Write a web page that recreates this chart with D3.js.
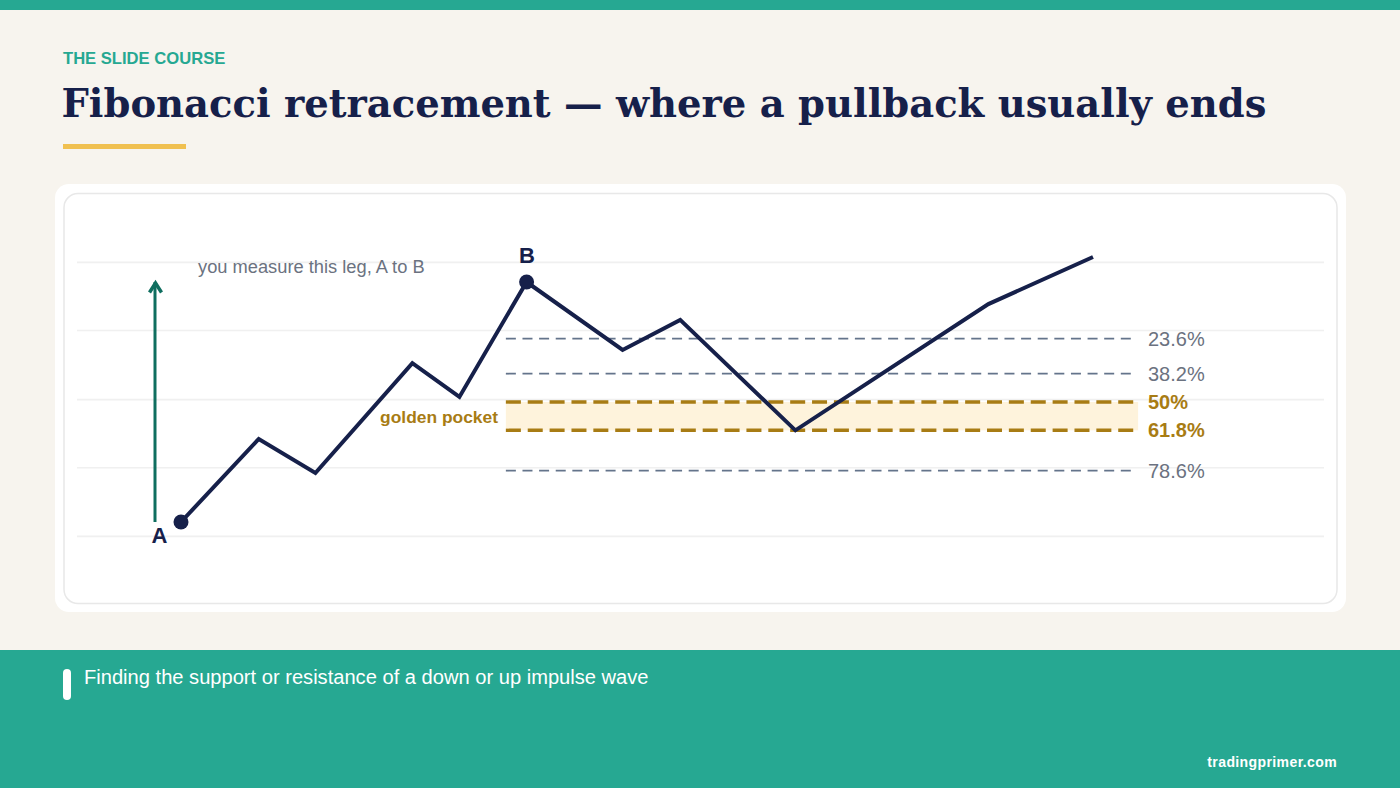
<!DOCTYPE html>
<html>
<head>
<meta charset="utf-8">
<script src="https://cdn.jsdelivr.net/npm/d3@7"></script>
<style>
    html, body { margin: 0; padding: 0; background: #f7f4ee; overflow: hidden; }
    svg { display: block; }
    text { font-family: "Liberation Sans", Arial, sans-serif; }
    .grid .domain { display: none; }
    .grid line { stroke: #f0f0f0; stroke-width: 1.6; }
</style>
</head>
<body>
<script>
// wave, x in bars and price as % of the A to B leg
const WAVE_BARS = [0, 4.05, 7, 12.05, 14.5, 18, 23, 26, 32, 42.05, 47.5];
const WAVE_PRICES = [0, 34.6, 20.4, 66.2, 52.1, 100, 71.7, 84.2, 38.2, 90.8, 110.4];

const GRID_PRICES = [108.4, 80, 51.2, 22.8, -5.8];

const LEVELS = [23.6, 38.2, 50, 61.8, 78.6];
const LEVEL_LABELS = ["23.6%", "38.2%", "50%", "61.8%", "78.6%"];
const GOLDEN_LEVELS = [50, 61.8];

const TEAL = "#26a892";
const NAVY = "#16204a";
const GOLD = "#a87c14";
const GRAY = "#6b7280";

const width = 1400;
const height = 788;

const svg = d3.select("body").append("svg")
    .attr("width", width)
    .attr("height", height);

const xScale = d3.scaleLinear().domain([0, 47.5]).range([181, 1093]);
const yScale = d3.scaleLinear().domain([0, 100]).range([522, 282]);
const levelY = (level) => yScale(100 - level);

// slide furniture
svg.append("rect").attr("width", width).attr("height", height).attr("fill", "#f7f4ee");
svg.append("rect").attr("width", width).attr("height", 10).attr("fill", TEAL);

svg.append("text")
    .attr("x", 63).attr("y", 64)
    .attr("fill", TEAL)
    .attr("font-size", 16.6)
    .attr("font-weight", 700)
    .text("THE SLIDE COURSE");

svg.append("text")
    .attr("x", 61.5).attr("y", 116.5)
    .attr("fill", NAVY)
    .attr("font-size", 38.5)
    .attr("font-weight", 700)
    .style("font-family", "'DejaVu Serif', serif")
    .text("Fibonacci retracement — where a pullback usually ends");

svg.append("rect")
    .attr("x", 63).attr("y", 144)
    .attr("width", 123).attr("height", 5)
    .attr("fill", "#f0c050");

// chart card
svg.append("rect")
    .attr("x", 55).attr("y", 184)
    .attr("width", 1291).attr("height", 428)
    .attr("rx", 14)
    .attr("fill", "#ffffff");
svg.append("rect")
    .attr("x", 64).attr("y", 193.5)
    .attr("width", 1273).attr("height", 410)
    .attr("rx", 14)
    .attr("fill", "#ffffff")
    .attr("stroke", "#e8e8e8")
    .attr("stroke-width", 1.5);

// gridlines
const gridAxis = d3.axisLeft(yScale)
    .tickValues(GRID_PRICES)
    .tickSize(-1247)
    .tickFormat("");
svg.append("g")
    .attr("class", "grid")
    .attr("transform", "translate(77, 0)")
    .call(gridAxis);

// golden pocket band
svg.append("rect")
    .attr("x", xScale(16.92))
    .attr("y", levelY(GOLDEN_LEVELS[0]))
    .attr("width", xScale(49.85) - xScale(16.92))
    .attr("height", levelY(GOLDEN_LEVELS[1]) - levelY(GOLDEN_LEVELS[0]))
    .attr("fill", "#fef3dc");

svg.append("text")
    .attr("x", 498).attr("y", 423)
    .attr("text-anchor", "end")
    .attr("fill", GOLD)
    .attr("font-size", 17.4)
    .attr("font-weight", 700)
    .text("golden pocket");

// retracement levels
LEVELS.forEach((level, i) => {
    const golden = GOLDEN_LEVELS.includes(level);
    svg.append("line")
        .attr("x1", xScale(16.92))
        .attr("x2", xScale(49.7))
        .attr("y1", levelY(level))
        .attr("y2", levelY(level))
        .attr("stroke", golden ? GOLD : "#64748b")
        .attr("stroke-width", golden ? 3.4 : 1.8)
        .attr("stroke-dasharray", golden ? "15 6.87" : "10 6.62");
    svg.append("text")
        .attr("x", 1148)
        .attr("y", levelY(level) + 7)
        .attr("fill", golden ? GOLD : GRAY)
        .attr("font-size", 20)
        .attr("font-weight", golden ? 700 : 400)
        .text(LEVEL_LABELS[i]);
});

// measure arrow
svg.append("line")
    .attr("x1", 155).attr("x2", 155)
    .attr("y1", yScale(0)).attr("y2", yScale(100))
    .attr("stroke", "#0f6e5f")
    .attr("stroke-width", 3);
svg.append("path")
    .attr("d", d3.line()([[149.5, 292.5], [155.5, 283], [161.5, 292.5]]))
    .attr("fill", "none")
    .attr("stroke", "#0f6e5f")
    .attr("stroke-width", 3.5);

svg.append("text")
    .attr("x", 198).attr("y", 273)
    .attr("fill", GRAY)
    .attr("font-size", 18.3)
    .text("you measure this leg, A to B");

// price wave
const waveLine = d3.line()
    .x((d) => xScale(d[0]))
    .y((d) => yScale(d[1]));
svg.append("path")
    .attr("d", waveLine(d3.zip(WAVE_BARS, WAVE_PRICES)))
    .attr("fill", "none")
    .attr("stroke", NAVY)
    .attr("stroke-width", 4);

[0, 5].forEach((i) => {
    svg.append("circle")
        .attr("cx", xScale(WAVE_BARS[i]))
        .attr("cy", yScale(WAVE_PRICES[i]))
        .attr("r", 7.5)
        .attr("fill", NAVY);
});

svg.append("text")
    .attr("x", 159.5).attr("y", 543)
    .attr("text-anchor", "middle")
    .attr("fill", NAVY)
    .attr("font-size", 22)
    .attr("font-weight", 700)
    .text("A");
svg.append("text")
    .attr("x", 527).attr("y", 263)
    .attr("text-anchor", "middle")
    .attr("fill", NAVY)
    .attr("font-size", 22)
    .attr("font-weight", 700)
    .text("B");

// footer
svg.append("rect")
    .attr("y", 650)
    .attr("width", width).attr("height", 138)
    .attr("fill", TEAL);
svg.append("rect")
    .attr("x", 63).attr("y", 669)
    .attr("width", 8).attr("height", 31)
    .attr("rx", 4)
    .attr("fill", "#ffffff");
svg.append("text")
    .attr("x", 84).attr("y", 684)
    .attr("fill", "#ffffff")
    .attr("font-size", 20.12)
    .text("Finding the support or resistance of a down or up impulse wave");
svg.append("text")
    .attr("x", 1337).attr("y", 767)
    .attr("text-anchor", "end")
    .attr("fill", "#ffffff")
    .attr("font-size", 14)
    .attr("letter-spacing", 0.4)
    .attr("font-weight", 700)
    .text("tradingprimer.com");
</script>
</body>
</html>
